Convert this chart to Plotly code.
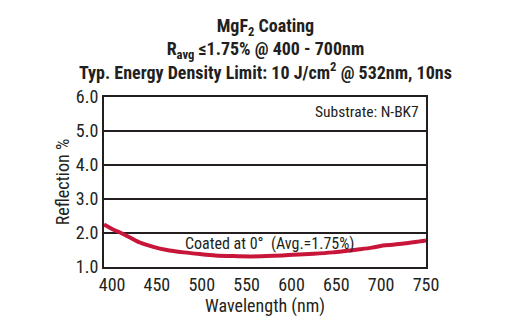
import plotly.graph_objects as go

wavelength = [391, 400, 410, 420, 431, 445, 461, 480, 498, 515, 535, 555, 572, 590, 602, 625, 646, 660, 676, 690, 702, 715, 728, 740, 750]
reflection = [2.25, 2.12, 2.00, 1.87, 1.72, 1.60, 1.50, 1.43, 1.38, 1.34, 1.32, 1.31, 1.32, 1.34, 1.36, 1.39, 1.43, 1.47, 1.52, 1.57, 1.63, 1.66, 1.70, 1.74, 1.78]
x_ticks = [400, 450, 500, 550, 600, 650, 700, 750]
y_ticks = [1.0, 2.0, 3.0, 4.0, 5.0, 6.0]

FONT = "Roboto Condensed, DejaVu Sans Condensed, sans-serif"
RED = "#c8163a"
INK = "#231f20"

fig = go.Figure()
fig.add_trace(go.Scatter(x=wavelength, y=reflection, mode="lines",
                         line=dict(color=RED, width=4, shape="spline", smoothing=0.8),
                         hoverinfo="skip", showlegend=False))

fig.update_layout(
    width=505, height=334,
    margin=dict(l=104, r=79, t=97, b=67),
    paper_bgcolor="white", plot_bgcolor="white",
    font=dict(family=FONT, color=INK, size=17),
    showlegend=False,
    xaxis=dict(range=[391, 750], tickvals=x_ticks, ticks="", showgrid=False, zeroline=False,
               showline=True, linecolor=INK, linewidth=2, mirror=True,
               tickfont=dict(size=18, family=FONT, color=INK),
               title=dict(text="Wavelength (nm)", font=dict(size=18, family=FONT, color=INK), standoff=1)),
    yaxis=dict(range=[1.0, 6.0], tickvals=y_ticks, tickformat=".1f", ticks="",
               showgrid=True, gridcolor=INK, gridwidth=1.5, zeroline=False,
               showline=True, linecolor=INK, linewidth=2, mirror=True,
               tickfont=dict(size=18, family=FONT, color=INK),
               title=dict(text="Reflection %", font=dict(size=18, family=FONT, color=INK), standoff=2)),
)

fig.add_annotation(xref="paper", yref="paper", x=0.5, y=1, yshift=12, xanchor="center", yanchor="bottom",
                   text="<b>MgF<sub>2</sub> Coating<br>R<sub>avg</sub> ≤1.75% @ 400 - 700nm<br>Typ. Energy Density Limit: 10 J/cm<sup>2</sup> @ 532nm, 10ns</b>",
                   showarrow=False, align="center", font=dict(size=18, family=FONT, color=INK))
fig.add_annotation(xref="paper", yref="paper", x=0.985, y=0.975, xanchor="right", yanchor="top",
                   text="Substrate: N-BK7", showarrow=False, font=dict(size=15.5, family=FONT, color=INK))
fig.add_annotation(xref="x", yref="y", x=576, y=1.68, xanchor="center", yanchor="middle",
                   text="Coated at 0°  (Avg.=1.75%)", showarrow=False, font=dict(size=16, family=FONT, color=INK))

fig.write_html("out.html")
